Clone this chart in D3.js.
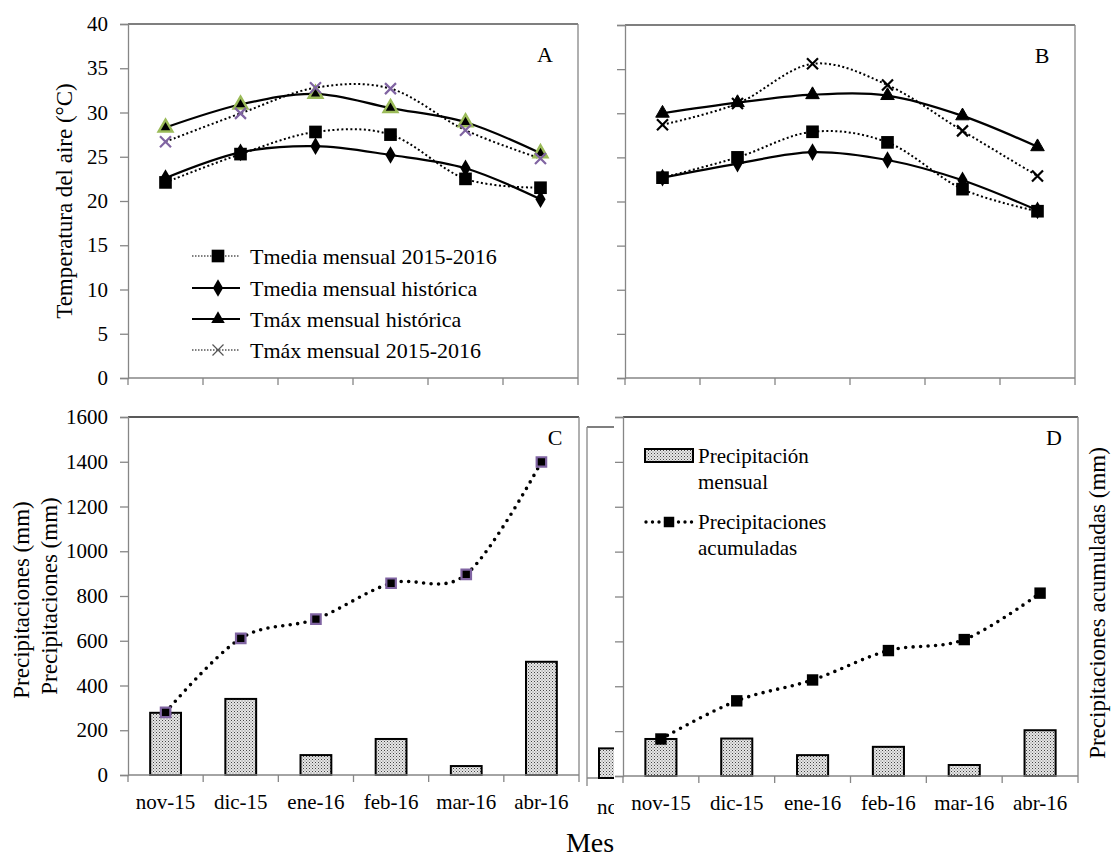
<!DOCTYPE html>
<html><head><meta charset="utf-8">
<script src="https://cdn.jsdelivr.net/npm/d3@7"></script>
<style>body{margin:0;background:#fff}svg{display:block}</style>
</head><body>
<script>
const months = ["nov-15","dic-15","ene-16","feb-16","mar-16","abr-16"];
const tempTicks = [0,5,10,15,20,25,30,35,40];
const precTicks = [0,200,400,600,800,1000,1200,1400,1600];
// Panel A
const tmed1516A = [22.1, 25.3, 27.8, 27.5, 22.5, 21.5];
const tmedHistA = [22.6, 25.5, 26.2, 25.2, 23.7, 20.2];
const tmaxHistA = [28.3, 30.9, 32.1, 30.5, 28.9, 25.4];
const tmax1516A = [26.7, 29.9, 32.8, 32.7, 28.0, 24.8];
// Panel B
const tmed1516B = [22.7, 25.0, 27.9, 26.7, 21.4, 18.9];
const tmedHistB = [22.7, 24.3, 25.6, 24.7, 22.4, 19.0];
const tmaxHistB = [30.0, 31.2, 32.1, 32.0, 29.7, 26.2];
const tmax1516B = [28.7, 31.1, 35.6, 33.2, 28.0, 22.9];
// Panel C
const precMensC = [278, 340, 89, 161, 40, 506];
const precAcumC = [280, 611, 697, 857, 897, 1399];
// Panel D
const precMensD = [165, 167, 93, 130, 49, 204];
const precAcumD = [165, 335, 428, 559, 608, 815];
// partially hidden panel behind D (only a sliver visible)
const hiddenMonths = ["nc"];
const hiddenMens = [135];

const legendA = ["Tmedia mensual 2015-2016","Tmedia mensual histórica","Tmáx mensual histórica","Tmáx mensual 2015-2016"];
const legendD = [["Precipitación","mensual"],["Precipitaciones","acumuladas"]];

const FONT = "'Liberation Serif', 'Times New Roman', Tinos, serif";
const W=1112,H=857;
const svg=d3.select("body").append("svg").attr("width",W).attr("height",H).attr("font-family",FONT);
const defs=svg.append("defs");
const pat=defs.append("pattern").attr("id","stip").attr("patternUnits","userSpaceOnUse").attr("width",3).attr("height",3);
pat.append("rect").attr("width",3).attr("height",3).attr("fill","#e6e6e6");
pat.append("rect").attr("x",0).attr("y",0).attr("width",1).attr("height",1).attr("fill","#444");
pat.append("rect").attr("x",1.5).attr("y",1.5).attr("width",1).attr("height",1).attr("fill","#777");

const AX="#868686";
const curve=d3.curveCardinal.tension(0);
const GREEN="#9BBB59", PURPLE="#8064A2";

function xPath(s){const h=s/2;return `M${-h},${-h}L${h},${h}M${-h},${h}L${h},${-h}`;}

function panelFrame(g,x,y,l,r,t,b,opts){
  g.append("line").attr("x1",l).attr("x2",r).attr("y1",t).attr("y2",t).attr("stroke",opts.topColor||"#555").attr("stroke-width",1.3);
  g.append("line").attr("x1",r).attr("x2",r).attr("y1",t).attr("y2",b).attr("stroke",AX).attr("stroke-width",1.3);
  const ya=g.append("g").attr("transform",`translate(${l},0)`).call(d3.axisLeft(y).tickValues(opts.yTicks).tickSize(8).tickFormat(opts.yLabels?d3.format("d"):""));
  ya.attr("font-family",FONT);
  ya.select(".domain").attr("stroke",AX).attr("stroke-width",1.3);
  ya.selectAll(".tick line").attr("stroke",AX).attr("stroke-width",1.3);
  ya.selectAll("text").attr("font-size",21).attr("x",-20).attr("fill","#000");
  const bounds=d3.range(months.length+1).map(i=>l+(r-l)*i/months.length);
  g.append("line").attr("x1",l).attr("x2",r).attr("y1",b).attr("y2",b).attr("stroke",AX).attr("stroke-width",1.3);
  g.selectAll(null).data(bounds).enter().append("line").attr("x1",d=>d).attr("x2",d=>d).attr("y1",b).attr("y2",b+7).attr("stroke",AX).attr("stroke-width",1.3);
  if(opts.xLabels){
    g.selectAll(null).data(months).enter().append("text").attr("x",d=>x(d)+x.bandwidth()/2).attr("y",b+34).attr("text-anchor","middle").attr("font-size",21).text(d=>d);
  }
}

function tempPanel(l,r,t,b,series,colored,label,showLabels){
  const g=svg.append("g");
  const x=d3.scaleBand().domain(months).range([l,r]).padding(0);
  const y=d3.scaleLinear().domain([0,40]).range([b,t]);
  panelFrame(g,x,y,l,r,t,b,{yTicks:tempTicks,yLabels:showLabels,xLabels:false,topColor:"#555"});
  const cx=d=>x(d)+x.bandwidth()/2;
  const line=d3.line().x((d,i)=>cx(months[i])).y(d=>y(d)).curve(curve);
  const [tm1516,tmH,txH,tx1516]=series;
  g.append("path").attr("d",line(txH)).attr("fill","none").attr("stroke","#000").attr("stroke-width",2.2);
  g.append("path").attr("d",line(tmH)).attr("fill","none").attr("stroke","#000").attr("stroke-width",2.2);
  g.append("path").attr("d",line(tx1516)).attr("fill","none").attr("stroke","#000").attr("stroke-width",2).attr("stroke-dasharray","2,2.5");
  g.append("path").attr("d",line(tm1516)).attr("fill","none").attr("stroke","#000").attr("stroke-width",2).attr("stroke-dasharray","2,2.5");
  g.selectAll(null).data(tmH).enter().append("path").attr("d",d3.symbol(d3.symbolDiamond,90)()).attr("transform",(d,i)=>`translate(${cx(months[i])},${y(d)})`).attr("fill","#000");
  g.selectAll(null).data(tm1516).enter().append("path").attr("d",d3.symbol(d3.symbolSquare,160)()).attr("transform",(d,i)=>`translate(${cx(months[i])},${y(d)})`).attr("fill","#000");
  g.selectAll(null).data(txH).enter().append("path").attr("d",d3.symbol(d3.symbolTriangle,80)()).attr("transform",(d,i)=>`translate(${cx(months[i])},${y(d)})`).attr("fill","#000").attr("stroke",colored?GREEN:"#000").attr("stroke-width",colored?2.5:1);
  g.selectAll(null).data(tx1516).enter().append("path").attr("d",xPath(11)).attr("transform",(d,i)=>`translate(${cx(months[i])},${y(d)})`).attr("fill","none").attr("stroke",colored?PURPLE:"#000").attr("stroke-width",2.2);
  g.append("text").attr("x",r-33).attr("y",t+38).attr("text-anchor","middle").attr("font-size",22).text(label);
  return g;
}

const gA=tempPanel(128,578,24,378,[tmed1516A,tmedHistA,tmaxHistA,tmax1516A],true,"A",true);
tempPanel(625,1075,25,378,[tmed1516B,tmedHistB,tmaxHistB,tmax1516B],false,"B",false);

// Legend A
const legY=[256,288,319,350];
legendA.forEach((name,i)=>{
  const yy=legY[i];
  const dotted=(i===0||i===3);
  gA.append("line").attr("x1",192).attr("x2",240).attr("y1",yy).attr("y2",yy).attr("stroke",dotted?"#555":"#000").attr("stroke-width",dotted?1.3:2.2).attr("stroke-dasharray",dotted?"1.5,1.5":null);
  let m;
  if(i===0) m=gA.append("path").attr("d",d3.symbol(d3.symbolSquare,160)()).attr("fill","#000");
  if(i===1) m=gA.append("path").attr("d",d3.symbol(d3.symbolDiamond,90)()).attr("fill","#000");
  if(i===2) m=gA.append("path").attr("d",d3.symbol(d3.symbolTriangle,80)()).attr("fill","#000");
  if(i===3) m=gA.append("path").attr("d",xPath(11)).attr("fill","none").attr("stroke","#555").attr("stroke-width",1.2);
  m.attr("transform",`translate(218,${yy})`);
  gA.append("text").attr("x",250).attr("y",yy+8).attr("font-size",22).text(name);
});

// Hidden panel (behind D, clipped)
defs.append("clipPath").attr("id","hclip").append("rect").attr("x",570).attr("y",400).attr("width",44).attr("height",430);
{
  const g=svg.append("g").attr("clip-path","url(#hclip)");
  const l=587,t=427,b=778;
  const x=d3.scaleBand().domain(hiddenMonths).range([l,l+56]);
  const y=d3.scaleLinear().domain([0,1600]).range([b,t]);
  g.append("line").attr("x1",l).attr("x2",l+60).attr("y1",t).attr("y2",t).attr("stroke","#555").attr("stroke-width",1.3);
  g.append("line").attr("x1",l).attr("x2",l).attr("y1",t).attr("y2",b+8).attr("stroke",AX).attr("stroke-width",1.3);
  g.append("line").attr("x1",l).attr("x2",l+60).attr("y1",b).attr("y2",b).attr("stroke",AX).attr("stroke-width",1.3);
  g.selectAll(null).data(hiddenMens).enter().append("rect").attr("x",(d,i)=>x(hiddenMonths[i])+12).attr("width",31).attr("y",d=>y(d)).attr("height",d=>b-y(d)).attr("fill","url(#stip)").attr("stroke","#000").attr("stroke-width",2);
  g.selectAll(null).data(hiddenMonths).enter().append("text").attr("x",d=>x(d)+10).attr("y",b+36).attr("font-size",21).text(d=>d);
}

function precPanel(l,r,t,b,mens,acum,colored,label,showLabels){
  const g=svg.append("g");
  g.append("rect").attr("x",l-9).attr("y",t-2).attr("width",r-l+11).attr("height",b-t+60).attr("fill","#fff");
  const x=d3.scaleBand().domain(months).range([l,r]).padding(0);
  const y=d3.scaleLinear().domain([0,1600]).range([b,t]);
  const bw=x.bandwidth();
  g.selectAll(null).data(mens).enter().append("rect").attr("x",(d,i)=>x(months[i])+bw*0.295).attr("width",bw*0.41).attr("y",d=>y(d)).attr("height",d=>b-y(d)).attr("fill","url(#stip)").attr("stroke","#000").attr("stroke-width",2);
  panelFrame(g,x,y,l,r,t,b,{yTicks:precTicks,yLabels:showLabels,xLabels:true,topColor:"#222"});
  const cx=d=>x(d)+bw/2;
  const line=d3.line().x((d,i)=>cx(months[i])).y(d=>y(d)).curve(curve);
  g.append("path").attr("d",line(acum)).attr("fill","none").attr("stroke","#000").attr("stroke-width",3.6).attr("stroke-linecap","round").attr("stroke-dasharray","0,7.5");
  g.selectAll(null).data(acum).enter().append("path").attr("d",d3.symbol(d3.symbolSquare,colored?90:130)()).attr("transform",(d,i)=>`translate(${cx(months[i])},${y(d)})`).attr("fill","#000").attr("stroke",colored?PURPLE:"none").attr("stroke-width",2.2);
  g.append("text").attr("x",r-24).attr("y",t+28).attr("text-anchor","middle").attr("font-size",22).text(label);
  return g;
}

precPanel(128,579,417,775,precMensC,precAcumC,true,"C",true);
const gD=precPanel(623,1078,417,776,precMensD,precAcumD,false,"D",false);

// Legend D
gD.append("rect").attr("x",645).attr("y",449).attr("width",48).attr("height",13).attr("fill","url(#stip)").attr("stroke","#000").attr("stroke-width",2);
gD.append("line").attr("x1",646).attr("x2",693).attr("y1",522).attr("y2",522).attr("stroke","#000").attr("stroke-width",3.4).attr("stroke-linecap","round").attr("stroke-dasharray","0,6.5");
gD.append("path").attr("d",d3.symbol(d3.symbolSquare,110)()).attr("transform","translate(669,522)").attr("fill","#000");
legendD.forEach((lines,i)=>{
  lines.forEach((s,j)=>{
    gD.append("text").attr("x",698).attr("y",(i?529:463)+j*26).attr("font-size",21).text(s);
  });
});

// Axis titles
svg.append("text").attr("transform","translate(72,201) rotate(-90)").attr("text-anchor","middle").attr("font-size",23).text("Temperatura del aire (°C)");
svg.append("text").attr("transform","translate(29,600) rotate(-90)").attr("text-anchor","middle").attr("font-size",23).text("Precipitaciones (mm)");
svg.append("text").attr("transform","translate(57,596) rotate(-90)").attr("text-anchor","middle").attr("font-size",23).text("Precipitaciones (mm)");
svg.append("text").attr("transform","translate(1105,603) rotate(-90)").attr("text-anchor","middle").attr("font-size",23).text("Precipitaciones acumuladas (mm)");
svg.append("text").attr("x",590).attr("y",852).attr("text-anchor","middle").attr("font-size",28).text("Mes");

svg.selectAll("text").style("font-family",FONT).attr("fill","#000");
</script>
</body></html>
